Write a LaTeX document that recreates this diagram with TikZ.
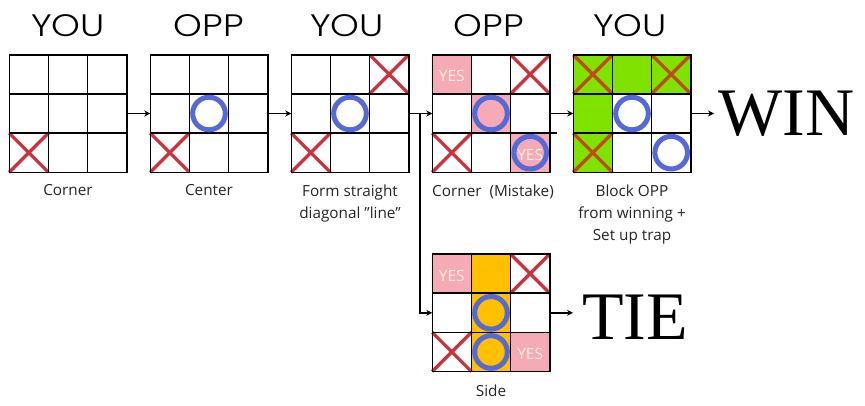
\documentclass[tikz,border=0pt]{standalone}
\usepackage{fontspec}
\usetikzlibrary{arrows.meta}
\setmainfont{Open Sans}
\newfontfamily\headfont{Poppins}[UprightFont=* Light]
\newfontfamily\bigfont{Liberation Serif}
\definecolor{xred}{RGB}{205,50,60}
\definecolor{xgreenred}{RGB}{190,75,25}
\definecolor{oblue}{RGB}{85,105,215}
\definecolor{pinkc}{RGB}{246,170,182}
\definecolor{greenc}{RGB}{128,226,0}
\definecolor{goldc}{RGB}{255,192,0}
\definecolor{yesc}{RGB}{252,242,228}
\tikzset{
  boardbox/.style={draw=black, line width=1.5pt, minimum size=117.5pt, inner sep=0pt, outer sep=0pt},
  gridline/.style={draw=black, line width=1.5pt},
  head/.style={font=\headfont\fontsize{31}{31}\selectfont, anchor=base, inner sep=0pt},
  lbl/.style={font=\fontsize{15.3}{21.8}\selectfont, align=center, anchor=base, inner sep=0pt, text=black!85},
  big/.style={font=\bigfont\fontsize{68}{68}\selectfont, anchor=base west, inner sep=0pt},
  yes/.style={font=\fontsize{15.5}{15.5}\selectfont, text=yesc, inner sep=0pt},
  conn/.style={draw=black, line width=1.6pt, -{Stealth[length=6pt,width=6pt]}},
}
\newcommand{\crossmark}[3][xred]{\draw[#1, line width=3.3pt] (#2,#3) -- (#2+1,#3+1) (#2+1,#3) -- (#2,#3+1);}
\newcommand{\ringmark}[2]{\draw[oblue, line width=5pt] (#1+0.5,#2+0.5) circle[radius=16.3pt];}
\newcommand{\cellfill}[3]{\fill[#1] (#2,#3) rectangle (#2+1,#3+1);}
\newcommand{\yesmark}[2]{\node[yes] at (#1+0.5,#2+0.55) {YES};}
\newcommand{\gridlines}{\foreach \k in {1,2}{\draw[gridline] (\k,0) -- (\k,3); \draw[gridline] (0,\k) -- (3,\k);}}
\newcommand{\wide}[1]{\scalebox{1.18}[1]{#1}}
\newcommand{\sq}{\symbol{"22}}
\begin{document}
\begin{tikzpicture}[x=1pt, y=-1pt]
\useasboundingbox (0,0) rectangle (865,405);
\fill[white] (0,0) rectangle (865,405);

% board nodes
\node[boardbox] (b1) at (68,113.5) {};
\node[boardbox] (b2) at (209,113.5) {};
\node[boardbox] (b3) at (350,113.5) {};
\node[boardbox] (b4) at (491,113.5) {};
\node[boardbox] (b5) at (632,113.5) {};
\node[boardbox] (b6) at (491,312.8) {};

% board 1
\begin{scope}[shift={(b1.north west)}, x=39.17pt, y=-39.17pt]
  \crossmark{0}{2}
  \gridlines
\end{scope}
% board 2
\begin{scope}[shift={(b2.north west)}, x=39.17pt, y=-39.17pt]
  \crossmark{0}{2}
  \gridlines
  \ringmark{1}{1}
\end{scope}
% board 3
\begin{scope}[shift={(b3.north west)}, x=39.17pt, y=-39.17pt]
  \crossmark{2}{0}
  \crossmark{0}{2}
  \gridlines
  \ringmark{1}{1}
\end{scope}
% board 4
\begin{scope}[shift={(b4.north west)}, x=39.17pt, y=-39.17pt]
  \cellfill{pinkc}{0}{0}
  \cellfill{pinkc}{1}{1}
  \cellfill{pinkc}{2}{2}
  \crossmark{2}{0}
  \crossmark{0}{2}
  \gridlines
  \draw[gridline] (3,2) -- (3.18,2);
  \ringmark{1}{1}
  \ringmark{2}{2}
  \yesmark{0}{0}
  \yesmark{2}{2}
\end{scope}
% board 5
\begin{scope}[shift={(b5.north west)}, x=39.17pt, y=-39.17pt]
  \cellfill{greenc}{0}{0}
  \cellfill{greenc}{1}{0}
  \cellfill{greenc}{2}{0}
  \cellfill{greenc}{0}{1}
  \cellfill{greenc}{0}{2}
  \crossmark[xgreenred]{0}{0}
  \crossmark[xgreenred]{2}{0}
  \crossmark[xgreenred]{0}{2}
  \gridlines
  \ringmark{1}{1}
  \ringmark{2}{2}
\end{scope}
% board 6
\begin{scope}[shift={(b6.north west)}, x=39.17pt, y=-39.17pt]
  \cellfill{pinkc}{0}{0}
  \cellfill{goldc}{1}{0}
  \cellfill{goldc}{1}{1}
  \cellfill{goldc}{1}{2}
  \cellfill{pinkc}{2}{2}
  \crossmark{2}{0}
  \crossmark{0}{2}
  \gridlines
  \ringmark{1}{1}
  \ringmark{1}{2}
  \yesmark{0}{0}
  \yesmark{2}{2}
\end{scope}

% redraw borders on top
\foreach \b in {b1,b2,b3,b4,b5,b6}{\draw[black, line width=1.5pt] (\b.north west) rectangle (\b.south east);}

% headers
\node[head] (h1) at (68,36) {\wide{YOU}};
\node[head] (h2) at (209,36) {\wide{OPP}};
\node[head] (h3) at (347,36) {\wide{YOU}};
\node[head] (h4) at (489,36) {\wide{OPP}};
\node[head] (h5) at (630,36) {\wide{YOU}};

% labels
\node[lbl] (l1) at (68,195) {Corner};
\node[lbl] (l2) at (209,195) {Center};
\node[lbl] (l3) at (350,218.5) {Form straight\\diagonal \sq line\sq};
\node[lbl] (l4) at (493,196.5) {Corner~~(Mistake)};
\node[lbl] (l5) at (632,240) {Block OPP\\from winning +\\Set up trap};
\node[lbl] (l6) at (491,396) {Side};

% outcomes
\node[big] (win) at (718,135) {WIN};
\node[big] (tie) at (582,339) {TIE};

% connectors
\coordinate (split) at (420,113.5);
\draw[conn] (b1.east) -- (b2.west);
\draw[conn] (b2.east) -- (b3.west);
\draw[conn] (b3.east) -- (b4.west);
\draw[conn] (b4.east) -- (b5.west);
\draw[conn] (b5.east) -- ([xshift=-4pt]win.west |- b5.east);
\draw[conn] (split) |- (b6.west);
\draw[conn] (b6.east) -- ([xshift=-9pt]tie.west |- b6.east);
\end{tikzpicture}
\end{document}
